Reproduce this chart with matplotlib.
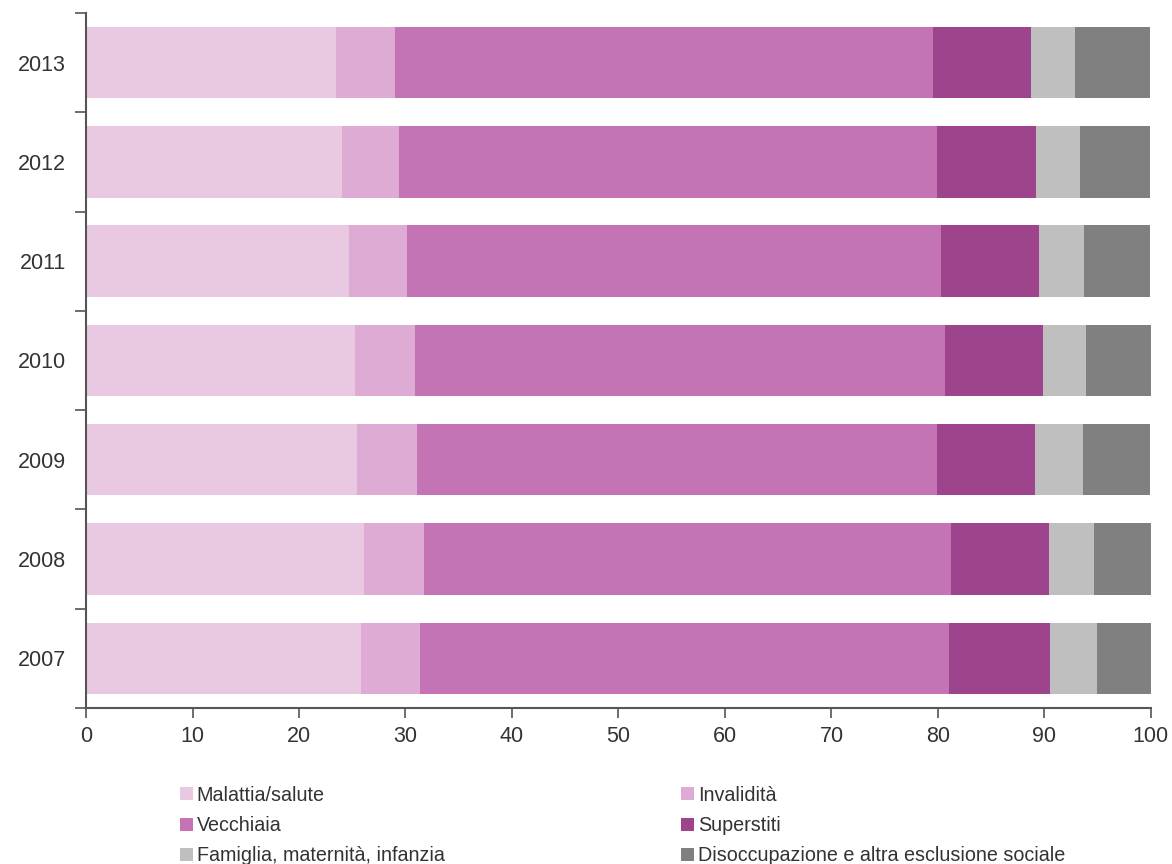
import matplotlib.pyplot as plt
import numpy as np

plt.rcParams['font.family'] = ['Liberation Sans', 'DejaVu Sans']

anni = ['2007', '2008', '2009', '2010', '2011', '2012', '2013']
categorie = ['Malattia/salute', 'Invalidità', 'Vecchiaia', 'Superstiti',
             'Famiglia, maternità, infanzia', 'Disoccupazione e altra esclusione sociale']
colori = ['#E8C9E1', '#DDABD4', '#C473B4', '#9E448D', '#BFBFBF', '#808080']

# quote percentuali per anno (2007 -> 2013)
malattia = [25.8, 26.1, 25.4, 25.3, 24.7, 24.0, 23.5]
invalidita = [5.6, 5.6, 5.7, 5.6, 5.4, 5.4, 5.5]
vecchiaia = [49.6, 49.5, 48.8, 49.8, 50.2, 50.5, 50.5]
superstiti = [9.5, 9.2, 9.2, 9.2, 9.2, 9.3, 9.2]
famiglia = [4.4, 4.3, 4.5, 4.0, 4.2, 4.1, 4.2]
disoccupazione = [5.1, 5.3, 6.3, 6.1, 6.2, 6.6, 7.0]

serie = [malattia, invalidita, vecchiaia, superstiti, famiglia, disoccupazione]

fig = plt.figure(figsize=(11.72, 8.64), dpi=100)
ax = fig.add_axes([0.0734, 0.1806, 0.9086, 0.8044])

y = np.arange(len(anni))
left = np.zeros(len(anni))
barre = []
for vals, col, lab in zip(serie, colori, categorie):
    b = ax.barh(y, vals, left=left, height=0.72, color=col, label=lab,
                edgecolor='none')
    barre.append(b)
    left = left + np.array(vals)

ax.set_xlim(0, 100)
ax.set_ylim(-0.5, len(anni) - 0.5)
ax.set_xticks(range(0, 101, 10))
ax.set_yticks(y)
ax.set_yticklabels(anni)
ax.set_yticks(np.arange(-0.5, len(anni), 1), minor=True)
ax.tick_params(axis='y', which='major', length=0, pad=14.5, labelsize=15.5, labelcolor='#333333')
ax.tick_params(axis='y', which='minor', length=8, width=1.2, color='#555555')
ax.tick_params(axis='x', length=7, width=1.2, color='#555555', labelsize=15.5,
               labelcolor='#333333', pad=6)

for s in ['top', 'right']:
    ax.spines[s].set_visible(False)
for s in ['left', 'bottom']:
    ax.spines[s].set_color('#555555')
    ax.spines[s].set_linewidth(1.5)

ordine = [0, 2, 4, 1, 3, 5]
fig.legend([barre[i] for i in ordine], [categorie[i] for i in ordine],
           ncol=2, loc='upper left', bbox_to_anchor=(0.1535, 0.0905),
           frameon=False, fontsize=14.2, handlelength=0.65, handleheight=0.65,
           handletextpad=0.2, labelspacing=0.57, columnspacing=12.0,
           labelcolor='#333333', borderpad=0, borderaxespad=0)

fig.savefig('out.png', dpi=100)
